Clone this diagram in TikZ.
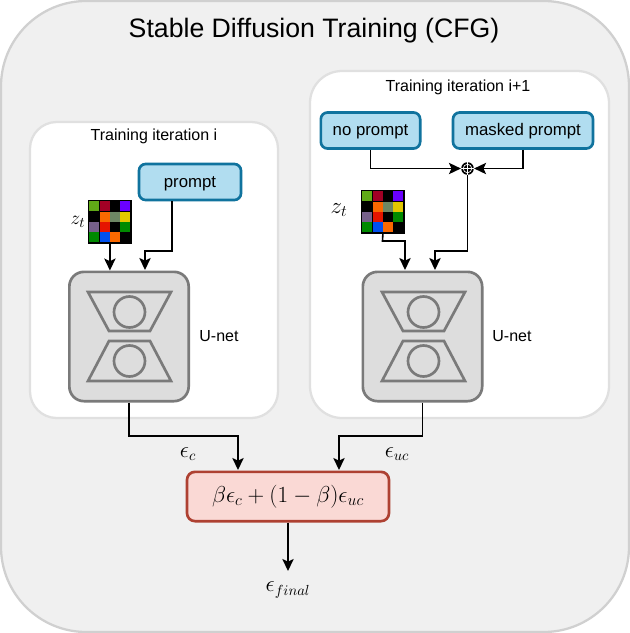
\documentclass[tikz,border=0pt]{standalone}
\usepackage{fontspec}
\setmainfont{Liberation Sans}
\usetikzlibrary{arrows.meta,positioning}
\definecolor{outerfill}{HTML}{F0F0F0}
\definecolor{outerline}{HTML}{D0D0D0}
\definecolor{panelline}{HTML}{E0E0E0}
\definecolor{bluefill}{HTML}{B1DDF0}
\definecolor{blueline}{HTML}{10739E}
\definecolor{redfill}{HTML}{FAD9D5}
\definecolor{redline}{HTML}{AE4132}
\definecolor{unetfill}{HTML}{DDDDDD}
\definecolor{unetline}{HTML}{7A7A7A}
\definecolor{ca}{HTML}{60A917}
\definecolor{cb}{HTML}{A20025}
\definecolor{cc}{HTML}{6A00FF}
\definecolor{cd}{HTML}{FA6800}
\definecolor{ce}{HTML}{6D8764}
\definecolor{cf}{HTML}{E3C800}
\definecolor{cg}{HTML}{76608A}
\definecolor{ch}{HTML}{E51400}
\definecolor{ci}{HTML}{008A00}
\definecolor{cj}{HTML}{0050EF}
\tikzset{
  x=0.75pt,y=-0.75pt,
  panel/.style={draw=panelline,line width=1.7pt,fill=white,rounded corners=20pt},
  bluebox/.style={draw=blueline,line width=2pt,fill=bluefill,rounded corners=5pt,inner sep=0pt,font=\fontsize{12.6}{14}\selectfont,text height=9pt,text depth=1.5pt},
  redbox/.style={draw=redline,line width=2pt,fill=redfill,rounded corners=6pt,inner sep=0pt},
  unetbox/.style={draw=unetline,line width=2pt,fill=unetfill,rounded corners=11pt,inner sep=0pt},
  unetpart/.style={draw=unetline,line width=2pt,line join=miter},
  lbl/.style={inner sep=0pt,font=\fontsize{12}{14}\selectfont},
  arr/.style={draw=black,line width=1.2pt,-{Stealth[inset=2pt,length=9pt,width=8.5pt]}},
}
\newcommand{\cellgrid}[3]{% name, x, y (top-left)
  \node[draw=black,fill=black,line width=0.6pt,minimum width=32.25pt,minimum height=32.25pt,inner sep=0pt,anchor=north west] (#1) at (#2,#3) {};
  \foreach \cc/\ci/\cj in {ca/0/0,cb/1/0,cc/3/0,cd/1/1,ce/2/1,cf/3/1,cg/0/2,ch/1/2,ci/3/2,ci/0/3,cj/1/3,cd/2/3}{
    \fill[\cc] ({#2+1.2+\ci*10.35},{#3+1.2+\cj*10.35}) rectangle ++(10,10);
  }
}
\newcommand{\unetshapes}[1]{% x offset
  \draw[unetpart] ({#1+88},292) -- ({#1+171},292) -- ({#1+150},331) -- ({#1+109},331) -- cycle;
  \draw[unetpart] ({#1+109},341) -- ({#1+150},341) -- ({#1+171},381) -- ({#1+88},381) -- cycle;
  \draw[unetpart] ({#1+129.5},312) circle (15.5);
  \draw[unetpart] ({#1+129.5},361) circle (15.5);
}
\begin{document}
\begin{tikzpicture}
\useasboundingbox (0,0) rectangle (630,633);
\draw[draw=outerline,line width=1.7pt,fill=outerfill,rounded corners=64pt] (1,1) rectangle (629,632);
\node[inner sep=0pt,font=\fontsize{20}{24}\selectfont] (title) at (314,31) {Stable Diffusion Training (CFG)};
\draw[panel] (30,122) rectangle (278,418);
\draw[panel,rounded corners=24pt] (310,71) rectangle (609,418);
\node[lbl] (ti) at (154,136) {Training iteration i};
\node[lbl] (tii) at (458,87) {Training iteration i+1};

\node[bluebox,minimum width=76.5pt,minimum height=27pt] (prompt) at (190,182) {prompt};
\node[bluebox,minimum width=74.5pt,minimum height=27pt] (noprompt) at (370.5,130.5) {no prompt};
\node[bluebox,minimum width=105pt,minimum height=27pt] (masked) at (523,130.5) {masked prompt};
\node[unetbox,minimum width=89.5pt,minimum height=97pt] (unetl) at (129,336.5) {};
\node[unetbox,minimum width=89.5pt,minimum height=97pt] (unetr) at (422.5,336.5) {};
\unetshapes{0}
\unetshapes{294}
\node[lbl] (ul) at (219,336) {U-net};
\node[lbl] (ur) at (512,336) {U-net};

\cellgrid{gl}{88}{200}
\cellgrid{gr}{361}{190}
\node[inner sep=0pt] (zl) at (78,222) {\fontsize{15}{17}\selectfont$z_t$};
\node[inner sep=0pt] (zr) at (339,210) {\fontsize{17}{19}\selectfont$z_t$};

\node[circle,fill=black,inner sep=0pt,minimum size=9.5pt] (sum) at (467.5,168.5) {};
\draw[white,line width=0.5pt] (sum.center) circle (3.2pt);
\draw[white,line width=0.5pt] (sum.north) -- (sum.south) (sum.west) -- (sum.east);

\node[redbox,minimum width=151.5pt,minimum height=37pt] (formula) at (288,496.5) {\fontsize{17.3}{20}\selectfont$\beta\epsilon_c+(1-\beta)\epsilon_{uc}$};

\coordinate (ein) at (288,571);
\node[inner sep=0pt] (efinal) at (288,590) {\fontsize{16}{19}\selectfont$\epsilon_{final}$};
\node[inner sep=0pt] (ec) at (188,454) {\fontsize{16}{19}\selectfont$\epsilon_c$};
\node[inner sep=0pt] (euc) at (397,454) {\fontsize{16}{19}\selectfont$\epsilon_{uc}$};

\draw[arr] (gl.south) -- (gl.south |- unetl.north);
\draw[arr] (172,201) -- (172,251) -- (145,251) -- (145,270);
\draw[arr] (gr.south) -- (382.5,241) -- (405,241) -- (405,270);
\draw[arr] (sum.south) -- (467.5,251) -- (435,251) -- (435,270);
\draw[arr] (noprompt.south) -- (noprompt.south |- sum.west) -- (sum.west);
\draw[arr] (masked.south) -- (masked.south |- sum.east) -- (sum.east);
\draw[arr] (unetl.south) -- (129,436) -- (238,436) -- (238,470);
\draw[arr] (unetr.south) -- (422.5,436) -- (339,436) -- (339,470);
\draw[arr] (formula.south) -- (ein);
\end{tikzpicture}
\end{document}
